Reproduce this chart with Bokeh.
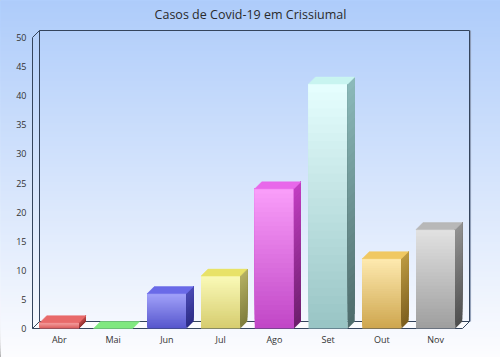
import numpy as np
from bokeh.plotting import figure
from bokeh.models import LinearAxis, FixedTicker, Label, Range1d
from bokeh.embed import file_html
from bokeh.resources import INLINE

# ---------------- data ----------------
title_text = "Casos de Covid-19 em Crissiumal"
categories = ["Abr", "Mai", "Jun", "Jul", "Ago", "Set", "Out", "Nov"]
cases = [1, 0, 6, 9, 24, 42, 12, 17]
y_ticks = [0, 5, 10, 15, 20, 25, 30, 35, 40, 45, 50]

# bar colours (front light/dark, side light/dark, top cap)
front_light = ["#f7a0a0", "#98f298", "#a2a2fa", "#fafab8", "#fa9efa", "#e6ffff", "#feeab0", "#e2e2e2"]
front_dark = ["#d85a5a", "#60d060", "#5656cc", "#d6cc6e", "#c046c6", "#98c4c4", "#cea64e", "#9e9e9e"]
side_light = ["#c24c4c", "#50b050", "#4a4ab4", "#b4b064", "#c23ec2", "#8cbaba", "#bc9a42", "#929292"]
side_dark = ["#8e2e2e", "#308030", "#2c2c84", "#7e7c3c", "#6c1e6c", "#4e6c6c", "#7c5e1e", "#4e4e4e"]
cap_colors = ["#e86a6a", "#80e880", "#6a6ae8", "#e8e268", "#e868ea", "#c8f4f0", "#f0c862", "#b8b8b8"]

bg_top = (174, 204, 250)
bg_bottom = (252, 252, 254)

# ---------------- geometry ----------------
W, H = 500, 357
X0PX, Y0PX = 32, 328
PX_PER_X = 53.75
PX_PER_Y = 5.82
DEPTH_PX = 7
dx = DEPTH_PX / PX_PER_X
dy = DEPTH_PX / PX_PER_Y
half_w = 0.365
n_cat = len(categories)
y_max = y_ticks[-1]

x_range = Range1d(-X0PX / PX_PER_X, (W - X0PX) / PX_PER_X)
y_range = Range1d(-(H - Y0PX) / PX_PER_Y, Y0PX / PX_PER_Y)


def hex2rgb(h):
    h = h.lstrip("#")
    return tuple(int(h[i:i + 2], 16) for i in (0, 2, 4))


def mix(c1, c2, t):
    a = hex2rgb(c1) if isinstance(c1, str) else c1
    b = hex2rgb(c2) if isinstance(c2, str) else c2
    r = [int(round(a[k] + (b[k] - a[k]) * t)) for k in range(3)]
    return "#%02x%02x%02x" % tuple(r)


p = figure(width=W, height=H, output_backend="svg", toolbar_location=None,
           x_axis_type=None, y_axis_type=None, min_border=0,
           x_range=x_range, y_range=y_range)
p.grid.visible = False
p.outline_line_color = "#9c9c9c"
p.outline_line_width = 2
p.background_fill_color = "#ffffff"
p.border_fill_color = "#ffffff"

# ---------------- background gradient (overlapping strips, bottom first) ----------------
n_bg = 120
edges = np.linspace(y_range.start, y_range.end, n_bg + 1)
bg_cols = [mix(bg_bottom, bg_top, i / (n_bg - 1)) for i in range(n_bg)]
p.quad(left=x_range.start, right=x_range.end, bottom=edges[:-1], top=y_range.end,
       fill_color=bg_cols, line_color=None)

# ---------------- 3D box ----------------
box_col = "#34445c"
p.patch([0, n_cat, n_cat + dx, dx], [0, 0, dy, dy], fill_color="#fbfbfd", line_color=None)
p.line([dx, dx, n_cat + dx, n_cat + dx], [dy, y_max + dy, y_max + dy, dy], line_color=box_col, line_width=1)
p.line([n_cat + dx + 0.02, n_cat + dx + 0.02], [dy, y_max + dy], line_color="#8c9ab4", line_width=1)
p.line([dx, n_cat + dx], [dy, dy], line_color=box_col, line_width=1)
p.line([0, n_cat, n_cat + dx], [0, 0, dy], line_color=box_col, line_width=1)
p.line([0, dx], [y_max, y_max + dy], line_color=box_col, line_width=1)
p.line([0, dx], [0, dy], line_color=box_col, line_width=1)

# ---------------- bars (overlapping gradient slices, bottom first) ----------------
N = 30
f_l, f_r, f_b, f_t, f_c = [], [], [], [], []
s_xs, s_ys, s_c = [], [], []
c_xs, c_ys, c_c = [], [], []
for i, v in enumerate(cases):
    xc = i + 0.5
    x0, x1 = xc - half_w, xc + half_w
    if v > 0:
        for k in range(N):
            yb = v * k / N
            t = (k + 0.5) / N
            f_l.append(x0); f_r.append(x1); f_b.append(yb); f_t.append(v)
            f_c.append(mix(front_dark[i], front_light[i], t))
            s_xs.append([x1, x1 + dx, x1 + dx, x1])
            s_ys.append([yb, yb + dy, v + dy, v])
            s_c.append(mix(side_dark[i], side_light[i], t))
    c_xs.append([x0, x1, x1 + dx, x0 + dx])
    c_ys.append([v, v, v + dy, v + dy])
    c_c.append(cap_colors[i])

p.quad(left=f_l, right=f_r, bottom=f_b, top=f_t, fill_color=f_c, line_color=None)
p.patches(s_xs, s_ys, fill_color=s_c, line_color=None)
p.patches(c_xs, c_ys, fill_color=c_c, line_color=c_c, line_width=0.5)

# ---------------- axes ----------------
yaxis = LinearAxis(fixed_location=0, ticker=FixedTicker(ticks=y_ticks), bounds=(0, y_max))
yaxis.axis_line_color = box_col
yaxis.major_tick_line_color = None
yaxis.minor_tick_line_color = None
yaxis.major_tick_out = 0
yaxis.major_tick_in = 0
yaxis.major_label_standoff = 6
yaxis.major_label_text_font = "Open Sans"
yaxis.major_label_text_font_size = "9px"
yaxis.major_label_text_color = "#333333"
p.add_layout(yaxis, "left")

xticks = [i + 0.5 for i in range(n_cat)]
xaxis = LinearAxis(fixed_location=0, ticker=FixedTicker(ticks=xticks),
                   major_label_overrides={t: c for t, c in zip(xticks, categories)})
xaxis.axis_line_color = None
xaxis.major_tick_line_color = None
xaxis.minor_tick_line_color = None
xaxis.major_tick_out = 0
xaxis.major_tick_in = 0
xaxis.major_label_standoff = 4
xaxis.major_label_text_font = "Open Sans"
xaxis.major_label_text_font_size = "9px"
xaxis.major_label_text_color = "#333333"
p.add_layout(xaxis, "below")

# ---------------- title ----------------
p.add_layout(Label(x=(W / 2 - X0PX) / PX_PER_X, y=(Y0PX - 14) / PX_PER_Y, text=title_text,
                   text_align="center", text_baseline="middle", text_font="Open Sans",
                   text_font_size="12.5px", text_color="#2a2a2a"))

open("out.html", "w").write(file_html(p, INLINE))
